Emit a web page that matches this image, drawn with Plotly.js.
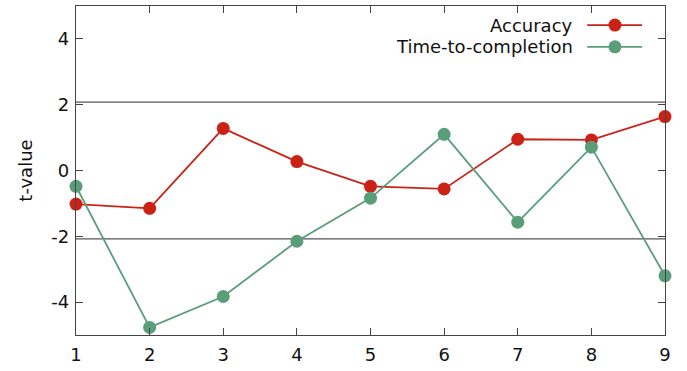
<!DOCTYPE html>
<html>
<head>
<meta charset="utf-8">
<script src="https://cdn.plot.ly/plotly-3.0.1.min.js"></script>
<style>html,body{margin:0;padding:0;background:#fff;}#chart{width:687px;height:371px;}</style>
</head>
<body>
<div id="chart"></div>
<script>
// Data
var steps = [1, 2, 3, 4, 5, 6, 7, 8, 9];
var accuracy = [-1.02, -1.15, 1.28, 0.27, -0.48, -0.56, 0.95, 0.93, 1.64];
var timeToCompletion = [-0.48, -4.77, -3.83, -2.15, -0.84, 1.10, -1.57, 0.71, -3.20];
var seriesNames = ["Accuracy", "Time-to-completion"];
var criticalT = 2.08;
var yTicks = [-4, -2, 0, 2, 4];
var yTickLabels = ["-4", "-2", "0", "2", "4"];

var red = "#cb2216";
var green = "#5a9e79";
var font = "DejaVu Sans, sans-serif";

var xMin = steps[0], xMax = steps[steps.length - 1];

var traces = [
  {x: [xMin, xMax], y: [criticalT, criticalT], mode: "lines", line: {color: "#555", width: 1.3}, hoverinfo: "skip", showlegend: false},
  {x: [xMin, xMax], y: [-criticalT, -criticalT], mode: "lines", line: {color: "#555", width: 1.3}, hoverinfo: "skip", showlegend: false},
  {x: steps, y: accuracy, name: seriesNames[0], mode: "lines+markers", line: {color: red, width: 1.8}, marker: {color: red, size: 13}, cliponaxis: false},
  {x: steps, y: timeToCompletion, name: seriesNames[1], mode: "lines+markers", line: {color: green, width: 1.8}, marker: {color: green, size: 13}, cliponaxis: false}
];

// manual legend (text left of sample, like the reference)
var legendY = [0.942, 0.876];
var legendColors = [red, green];
var annotations = [], shapes = [];
for (var i = 0; i < seriesNames.length; i++) {
  annotations.push({xref: "paper", yref: "paper", x: 0.848, y: legendY[i], xanchor: "right", yanchor: "middle",
    text: seriesNames[i], showarrow: false, font: {family: font, size: 18, color: "#111"}});
  shapes.push({type: "line", xref: "paper", yref: "paper", x0: 0.868, x1: 0.961, y0: legendY[i], y1: legendY[i],
    line: {color: legendColors[i], width: 1.8}});
  shapes.push({type: "circle", xref: "paper", yref: "paper", xsizemode: "pixel", ysizemode: "pixel",
    xanchor: 0.915, yanchor: legendY[i], x0: -6.5, x1: 6.5, y0: -6.5, y1: 6.5,
    fillcolor: legendColors[i], line: {width: 0}});
}

var layout = {
  width: 687, height: 371,
  margin: {l: 76, r: 22, t: 6, b: 36},
  paper_bgcolor: "#fff", plot_bgcolor: "#fff",
  showlegend: false,
  font: {family: font, size: 18, color: "#111"},
  xaxis: {range: [xMin, xMax], tickvals: steps, showgrid: false, zeroline: false,
    showline: true, linecolor: "#444", linewidth: 1.2, mirror: "ticks",
    ticks: "inside", ticklen: 7, tickcolor: "#444", tickfont: {size: 18}, ticklabelstandoff: 3},
  yaxis: {range: [-5, 5], tickvals: yTicks, ticktext: yTickLabels, showgrid: false, zeroline: false,
    showline: true, linecolor: "#444", linewidth: 1.2, mirror: "ticks",
    ticks: "inside", ticklen: 7, tickcolor: "#444", tickfont: {size: 18}, ticklabelstandoff: 2,
    title: {text: "t-value", font: {size: 18}, standoff: 14}},
  annotations: annotations,
  shapes: shapes
};

Plotly.newPlot("chart", traces, layout, {displayModeBar: false, staticPlot: true});
</script>
</body>
</html>
